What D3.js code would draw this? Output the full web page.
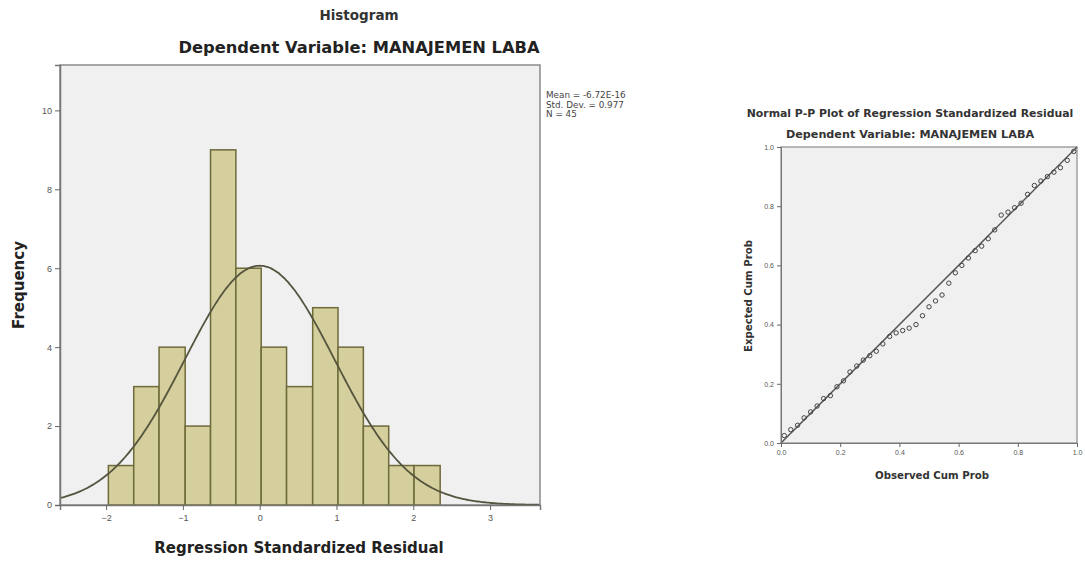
<!DOCTYPE html>
<html>
<head>
<meta charset="utf-8">
<script src="https://cdn.jsdelivr.net/npm/d3@7"></script>
<style>
  body { margin: 0; background: #fff; }
  svg { display: block; font-family: "DejaVu Sans", Verdana, sans-serif; }
</style>
</head>
<body>
<script>
// histogram bins (lower/upper edges) and counts
const binLow = [-1.97, -1.64, -1.31, -0.97, -0.64, -0.31, 0.02, 0.35, 0.69, 1.02, 1.35, 1.68, 2.01];
const binHigh = [-1.64, -1.31, -0.97, -0.64, -0.31, 0.02, 0.35, 0.69, 1.02, 1.35, 1.68, 2.01, 2.35];
const counts = [1, 3, 4, 2, 9, 6, 4, 3, 5, 4, 2, 1, 1];
const xTicks = [-2, -1, 0, 1, 2, 3];
const yTicks = [0, 2, 4, 6, 8, 10];
const statMean = 0;
const statSd = 0.977;
const statN = 45;
const legendLines = ["Mean = -6.72E-16", "Std. Dev. = 0.977", "N = 45"];

// P-P plot points
const observedCum = [0.011, 0.033, 0.056, 0.078, 0.100, 0.122, 0.144, 0.167, 0.189, 0.211,
  0.233, 0.256, 0.278, 0.300, 0.322, 0.344, 0.367, 0.389, 0.411, 0.433,
  0.456, 0.478, 0.500, 0.522, 0.544, 0.567, 0.589, 0.611, 0.633, 0.656,
  0.678, 0.700, 0.722, 0.744, 0.767, 0.789, 0.811, 0.833, 0.856, 0.878,
  0.900, 0.922, 0.944, 0.967, 0.989];
const expectedCum = [0.025, 0.045, 0.060, 0.085, 0.105, 0.125, 0.150, 0.160, 0.190, 0.210,
  0.240, 0.260, 0.280, 0.295, 0.310, 0.335, 0.360, 0.372, 0.380, 0.388,
  0.400, 0.430, 0.460, 0.480, 0.500, 0.540, 0.575, 0.600, 0.625, 0.650,
  0.665, 0.690, 0.720, 0.770, 0.780, 0.795, 0.810, 0.840, 0.870, 0.885,
  0.900, 0.915, 0.930, 0.955, 0.985];
const ppTicks = [0, 0.2, 0.4, 0.6, 0.8, 1.0];

const w = 1085;
const h = 563;

const svg = d3.select("body").append("svg").attr("width", w).attr("height", h);

/* ######## Histogram ######### */
const hx = d3.scaleLinear().domain([-2.6, 3.65]).range([60, 540]);
const hy = d3.scaleLinear().domain([0, 11.15]).range([505, 65]);

svg.append("rect")
  .attr("x", 60).attr("y", 65).attr("width", 480).attr("height", 440)
  .attr("fill", "#f0f0f0").attr("stroke", "#8a8a8a").attr("stroke-width", 1.5);

svg.selectAll("rect.bar")
  .data(counts)
  .enter()
  .append("rect")
  .attr("class", "bar")
  .attr("x", (d, i) => hx(binLow[i]))
  .attr("y", (d) => hy(d))
  .attr("width", (d, i) => hx(binHigh[i]) - hx(binLow[i]))
  .attr("height", (d) => hy(0) - hy(d))
  .attr("fill", "#d4cf9c")
  .attr("stroke", "#6e6a3a")
  .attr("stroke-width", 1.5);

// normal curve
const binW = binHigh[0] - binLow[0];
const curvePts = d3.range(-2.6, 3.65, 0.02).map(function (z) {
  const f = statN * binW / (statSd * Math.sqrt(2 * Math.PI)) *
    Math.exp(-((z - statMean) ** 2) / (2 * statSd * statSd));
  return [z, f];
});
svg.append("path")
  .datum(curvePts)
  .attr("fill", "none")
  .attr("stroke", "#55553f")
  .attr("stroke-width", 1.8)
  .attr("d", d3.line().x((d) => hx(d[0])).y((d) => hy(d[1])).curve(d3.curveBasis));

const xAxisH = d3.axisBottom(hx).tickValues(xTicks).tickFormat(d3.format("d")).tickSizeOuter(0).tickSize(5);
const yAxisH = d3.axisLeft(hy).tickValues(yTicks).tickFormat(d3.format("d")).tickSizeOuter(0).tickSize(5);

svg.append("g").attr("transform", "translate(0,505)").call(xAxisH)
  .call((g) => g.select(".domain").attr("stroke", "#777").attr("stroke-width", 1.5))
  .call((g) => g.selectAll(".tick line").attr("stroke", "#666"))
  .call((g) => g.selectAll("text").attr("font-size", 9).attr("fill", "#555").attr("dy", "0.9em"));
svg.append("g").attr("transform", "translate(60,0)").call(yAxisH)
  .call((g) => g.select(".domain").attr("stroke", "#777").attr("stroke-width", 1.5))
  .call((g) => g.selectAll(".tick line").attr("stroke", "#666"))
  .call((g) => g.selectAll("text").attr("font-size", 9).attr("fill", "#555"));

svg.append("text").attr("x", 359).attr("y", 20).attr("text-anchor", "middle")
  .attr("font-size", 13.5).attr("font-weight", "bold").attr("fill", "#333").text("Histogram");
svg.append("text").attr("x", 359).attr("y", 53).attr("text-anchor", "middle")
  .attr("font-size", 16.3).attr("font-weight", "bold").attr("fill", "#222")
  .text("Dependent Variable: MANAJEMEN LABA");
svg.append("text").attr("x", 299).attr("y", 553).attr("text-anchor", "middle")
  .attr("font-size", 15).attr("font-weight", "bold").attr("fill", "#222")
  .text("Regression Standardized Residual");
svg.append("text").attr("transform", "translate(24,285) rotate(-90)").attr("text-anchor", "middle")
  .attr("font-size", 15).attr("font-weight", "bold").attr("fill", "#222").text("Frequency");

svg.selectAll("text.legend")
  .data(legendLines)
  .enter()
  .append("text")
  .attr("class", "legend")
  .attr("x", 546)
  .attr("y", (d, i) => 98 + i * 9.5)
  .attr("font-size", 8.8)
  .attr("fill", "#444")
  .text((d) => d);

/* ######## P-P plot ######### */
const px = d3.scaleLinear().domain([0, 1]).range([781, 1077]);
const py = d3.scaleLinear().domain([0, 1]).range([443, 147]);

svg.append("rect")
  .attr("x", 781).attr("y", 147).attr("width", 296).attr("height", 296)
  .attr("fill", "#f0f0f0").attr("stroke", "#8a8a8a").attr("stroke-width", 1.2);

svg.append("line")
  .attr("x1", px(0)).attr("y1", py(0)).attr("x2", px(1)).attr("y2", py(1))
  .attr("stroke", "#555").attr("stroke-width", 1.5);

svg.selectAll("circle.pp")
  .data(observedCum)
  .enter()
  .append("circle")
  .attr("class", "pp")
  .attr("cx", (d) => px(d))
  .attr("cy", (d, i) => py(expectedCum[i]))
  .attr("r", 2.2)
  .attr("fill", "none")
  .attr("stroke", "#444")
  .attr("stroke-width", 1);

const xAxisP = d3.axisBottom(px).tickValues(ppTicks).tickFormat(d3.format(".1f")).tickSizeOuter(0).tickSize(4);
const yAxisP = d3.axisLeft(py).tickValues(ppTicks).tickFormat(d3.format(".1f")).tickSizeOuter(0).tickSize(4);

svg.append("g").attr("transform", "translate(0,443)").call(xAxisP)
  .call((g) => g.select(".domain").attr("stroke", "#777"))
  .call((g) => g.selectAll(".tick line").attr("stroke", "#666"))
  .call((g) => g.selectAll("text").attr("font-size", 7).attr("fill", "#555"));
svg.append("g").attr("transform", "translate(781,0)").call(yAxisP)
  .call((g) => g.select(".domain").attr("stroke", "#777"))
  .call((g) => g.selectAll(".tick line").attr("stroke", "#666"))
  .call((g) => g.selectAll("text").attr("font-size", 7).attr("fill", "#555"));

svg.append("text").attr("x", 910).attr("y", 117).attr("text-anchor", "middle")
  .attr("font-size", 10.9).attr("font-weight", "bold").attr("fill", "#333")
  .text("Normal P-P Plot of Regression Standardized Residual");
svg.append("text").attr("x", 910).attr("y", 138).attr("text-anchor", "middle")
  .attr("font-size", 11.2).attr("font-weight", "bold").attr("fill", "#333")
  .text("Dependent Variable: MANAJEMEN LABA");
svg.append("text").attr("x", 932).attr("y", 479).attr("text-anchor", "middle")
  .attr("font-size", 10.2).attr("font-weight", "bold").attr("fill", "#333")
  .text("Observed Cum Prob");
svg.append("text").attr("transform", "translate(752,296) rotate(-90)").attr("text-anchor", "middle")
  .attr("font-size", 10.2).attr("font-weight", "bold").attr("fill", "#333")
  .text("Expected Cum Prob");
</script>
</body>
</html>
